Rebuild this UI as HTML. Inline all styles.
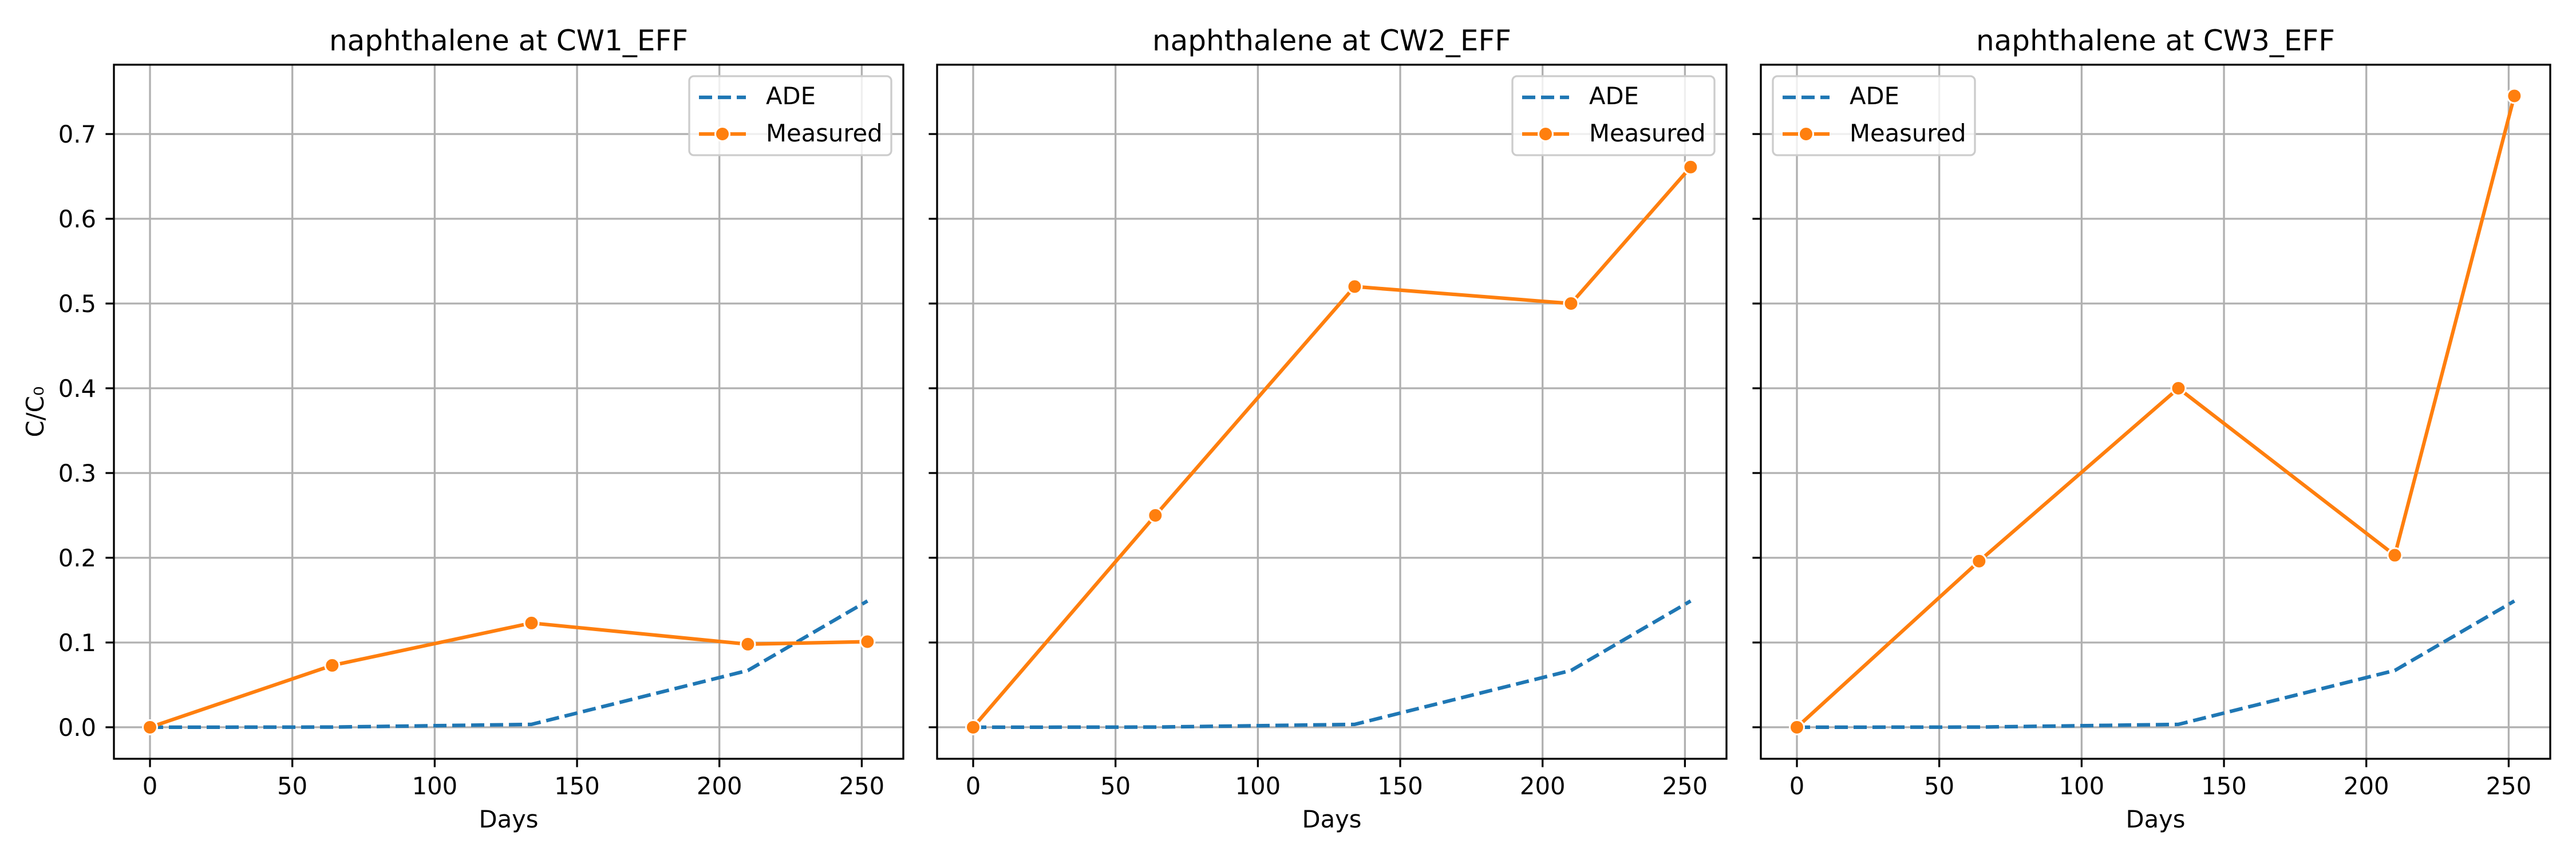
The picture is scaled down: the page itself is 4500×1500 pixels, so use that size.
<!DOCTYPE html>
<html><head><meta charset="utf-8"><style>
html,body{margin:0;padding:0;background:#fff;}
svg{display:block;font-family:"DejaVu Sans","Liberation Sans",sans-serif;}
</style></head><body>
<svg id="chart" width="4500" height="1500" viewBox="0 0 4500 1500" xmlns="http://www.w3.org/2000/svg"></svg>
<script>
const days = [0, 64, 134, 210, 252];
const adeValues = [0, 0.0002, 0.0034, 0.067, 0.149];
const measuredCW1 = [0, 0.073, 0.123, 0.098, 0.101];
const measuredCW2 = [0, 0.25, 0.52, 0.50, 0.661];
const measuredCW3 = [0, 0.196, 0.40, 0.203, 0.745];
const panelTitles = ["naphthalene at CW1_EFF", "naphthalene at CW2_EFF", "naphthalene at CW3_EFF"];
const xTicks = [0, 50, 100, 150, 200, 250];
const yTicks = [0.0, 0.1, 0.2, 0.3, 0.4, 0.5, 0.6, 0.7];
const legendSides = ["right", "right", "left"];

const NS = "http://www.w3.org/2000/svg";
const svg = document.getElementById('chart');
const measuredSets = [measuredCW1, measuredCW2, measuredCW3];
const panelLefts = [199, 1637, 3076];
const PW = 1379, TOP = 113, BOT = 1325;
const XMIN = -12.67, XMAX = 264.6, YMIN = -0.0372, YMAX = 0.7818;
function mk(tag, attrs, parent) {
  const e = document.createElementNS(NS, tag);
  for (const k in attrs) e.setAttribute(k, attrs[k]);
  (parent || svg).appendChild(e);
  return e;
}
panelTitles.forEach((title, p) => {
  const L = panelLefts[p], R = L + PW;
  const xs = v => L + (v - XMIN) / (XMAX - XMIN) * PW;
  const ys = v => BOT - (v - YMIN) / (YMAX - YMIN) * (BOT - TOP);
  const g = mk('g', {});
  
  
  // grid
  xTicks.forEach(t => {
    const l = mk('line', {x1: xs(t), x2: xs(t), y1: TOP, y2: BOT, stroke: '#b0b0b0', 'stroke-width': 3.3}, g);
    
    
    const tk = mk('line', {x1: xs(t), x2: xs(t), y1: BOT, y2: BOT + 14.6, stroke: '#000', 'stroke-width': 3.3}, g);
    
    
    const tx = mk('text', {x: xs(t), y: 1387, 'font-size': 41.7, 'text-anchor': 'middle', fill: '#000'}, g);
    tx.textContent = String(t);
    
    
  });
  yTicks.forEach(t => {
    const l = mk('line', {x1: L, x2: R, y1: ys(t), y2: ys(t), stroke: '#b0b0b0', 'stroke-width': 3.3}, g);
    
    
    const tk = mk('line', {x1: L - 14.6, x2: L, y1: ys(t), y2: ys(t), stroke: '#000', 'stroke-width': 3.3}, g);
    
    
    if (p === 0) {
      const tx = mk('text', {x: L - 31, y: ys(t) + 15, 'font-size': 41.7, 'text-anchor': 'end', fill: '#000'}, g);
      tx.textContent = t.toFixed(1);
      
      
    }
  });
  // ADE line
  const ade = mk('polyline', {points: days.map((d, i) => xs(d) + ',' + ys(adeValues[i])).join(' '), fill: 'none', stroke: '#1f77b4', 'stroke-width': 6.25, 'stroke-dasharray': '23 10'}, g);
  
  
  // measured
  const ms = measuredSets[p];
  const ml = mk('polyline', {points: days.map((d, i) => xs(d) + ',' + ys(ms[i])).join(' '), fill: 'none', stroke: '#ff7f0e', 'stroke-width': 6.25, 'stroke-linejoin': 'round'}, g);
  
  
  days.forEach((d, i) => {
    const c = mk('circle', {cx: xs(d), cy: ys(ms[i]), r: 12.5, fill: '#ff7f0e', stroke: '#fff', 'stroke-width': 3}, g);
    
    
  });
  // frame
  const fr = mk('rect', {x: L, y: TOP, width: PW, height: BOT - TOP, fill: 'none', stroke: '#000', 'stroke-width': 3.3}, g);
  
  
  // title
  const tt = mk('text', {x: L + PW / 2, y: 88, 'font-size': 50, 'text-anchor': 'middle', fill: '#000'}, g);
  tt.textContent = title;
  
  
  const xl = mk('text', {x: L + PW / 2, y: 1445, 'font-size': 41.7, 'text-anchor': 'middle', fill: '#000'}, g);
  xl.textContent = 'Days';
  
  
  // legend
  const lx = legendSides[p] === 'right' ? R - 21 - 353 : L + 21;
  const lg = mk('g', {}, g);
  
  
  mk('rect', {x: lx, y: 133, width: 353, height: 138, rx: 8, fill: 'rgba(255,255,255,0.8)', stroke: '#cccccc', 'stroke-width': 3.3}, lg);
  const h1 = mk('line', {x1: lx + 17, x2: lx + 99, y1: 170, y2: 170, stroke: '#1f77b4', 'stroke-width': 6.25, 'stroke-dasharray': '23 10'}, lg);
  
  
  const t1 = mk('text', {x: lx + 134, y: 182, 'font-size': 41.7, fill: '#000'}, lg);
  t1.textContent = 'ADE';
  
  
  const h2 = mk('line', {x1: lx + 17, x2: lx + 99, y1: 234, y2: 234, stroke: '#ff7f0e', 'stroke-width': 6.25}, lg);
  
  
  const hc = mk('circle', {cx: lx + 58, cy: 234, r: 12.5, fill: '#ff7f0e', stroke: '#fff', 'stroke-width': 3}, lg);
  
  
  const t2 = mk('text', {x: lx + 134, y: 247, 'font-size': 41.7, fill: '#000'}, lg);
  t2.textContent = 'Measured';
  
  
});
const yl = mk('text', {x: 0, y: 0, 'font-size': 41.7, 'text-anchor': 'middle', fill: '#000', transform: 'translate(76,719) rotate(-90)'});
yl.textContent = 'C/C₀';


</script>
</body></html>
